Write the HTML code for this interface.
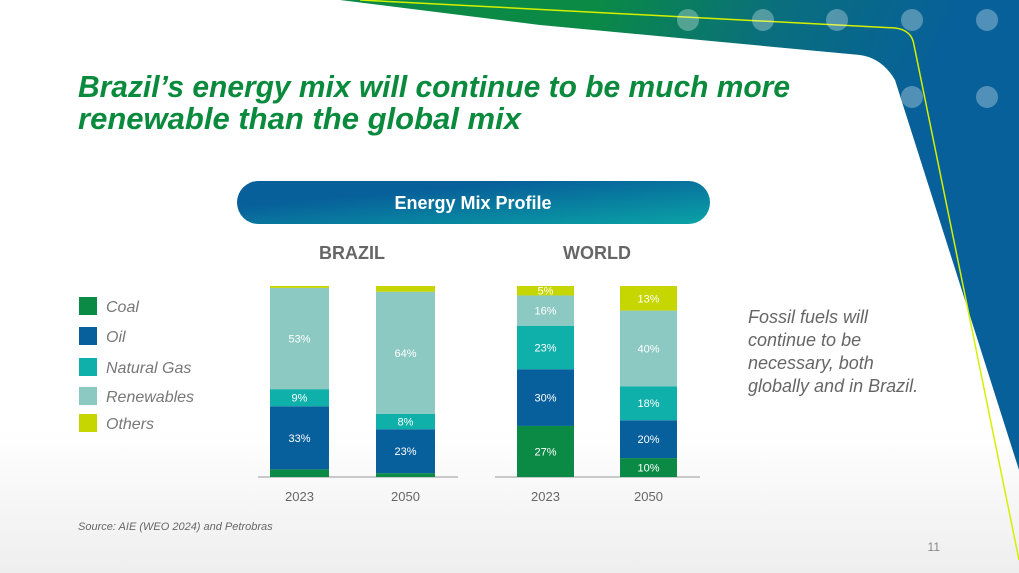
<!DOCTYPE html>
<html><head><meta charset="utf-8"><style>
body{margin:0;width:1019px;height:573px;overflow:hidden;background:#fff;font-family:"Liberation Sans",sans-serif}
svg{display:block}
</style></head><body>
<svg id="s" width="1019" height="573" viewBox="0 0 1019 573">
<defs>
<linearGradient id="bg" x1="0" y1="0" x2="0" y2="1"><stop offset="0.75" stop-color="#fff"/><stop offset="1" stop-color="#eeeeee"/></linearGradient>
<linearGradient id="deco" x1="0" y1="0" x2="1" y2="0.3"><stop offset="0.35" stop-color="#0a8a45"/><stop offset="0.6" stop-color="#0a6e7e"/><stop offset="0.85" stop-color="#07609a"/></linearGradient>
<linearGradient id="ban" x1="0" y1="0" x2="1" y2="1"><stop offset="0.3" stop-color="#07609a"/><stop offset="1" stop-color="#0aa3a6"/></linearGradient>
</defs>
<rect width="1019" height="573" fill="url(#bg)"/>
<path d="M340 0 L1019 0 L1019 470 L895 80 Q882 58 860 55 L540 25 Z" fill="url(#deco)"/>
<path d="M360 0 L895 28 Q912 30 914 45 L1019 560" fill="none" stroke="#d4f000" stroke-width="1.5"/>
<g fill="#ffffff" fill-opacity="0.3">
<circle cx="688" cy="20" r="11"/><circle cx="763" cy="20" r="11"/><circle cx="837" cy="20" r="11"/><circle cx="912" cy="20" r="11"/><circle cx="987" cy="20" r="11"/><circle cx="912" cy="97" r="11"/><circle cx="987" cy="97" r="11"/>
</g>
<g font-style="italic" font-weight="bold" font-size="31" fill="#0a8a3c">
<text x="78" y="97" textLength="712" lengthAdjust="spacingAndGlyphs">Brazil’s energy mix will continue to be much more</text>
<text x="78" y="129" textLength="443" lengthAdjust="spacingAndGlyphs">renewable than the global mix</text>
</g>
<rect x="237" y="181" width="473" height="43" rx="21.5" fill="url(#ban)"/>
<text x="473" y="209" text-anchor="middle" fill="#fff" font-weight="bold" font-size="18">Energy Mix Profile</text>
<text x="352" y="259" text-anchor="middle" fill="#666" font-weight="bold" font-size="18">BRAZIL</text>
<text x="597" y="259" text-anchor="middle" fill="#666" font-weight="bold" font-size="18">WORLD</text>
<line x1="258" y1="477" x2="458" y2="477" stroke="#999"/>
<line x1="495" y1="477" x2="700" y2="477" stroke="#999"/>
<g id="bars"></g>
<g id="legend" font-style="italic" font-size="16" fill="#777"></g>
<g font-style="italic" font-size="18" fill="#666">
<text x="748" y="323">Fossil fuels will</text>
<text x="748" y="346">continue to be</text>
<text x="748" y="369">necessary, both</text>
<text x="748" y="392">globally and in Brazil.</text>
</g>
<text x="78" y="530" font-style="italic" font-size="11" fill="#666">Source: AIE (WEO 2024) and Petrobras</text>
<text x="940" y="551" font-size="12" fill="#888" text-anchor="end">11</text>
</svg>
<script>
const categories = ["Brazil 2023","Brazil 2050","World 2023","World 2050"];
const years = ["2023","2050","2023","2050"];
const seriesNames = ["Coal","Oil","Natural Gas","Renewables","Others"];
const coal = [4, 2, 27, 10];
const oil = [33, 23, 30, 20];
const gas = [9, 8, 23, 18];
const renewables = [53, 64, 16, 40];
const others = [1, 3, 5, 13];
const labelCoal = ["", "", "27%", "10%"];
const labelOil = ["33%", "23%", "30%", "20%"];
const labelGas = ["9%", "8%", "23%", "18%"];
const labelRen = ["53%", "64%", "16%", "40%"];
const labelOth = ["", "", "5%", "13%"];

const colors = ["#0a8a45","#075f9c","#10b0aa","#8cc9c3","#c6d600"];
const series = [coal, oil, gas, renewables, others];
const labels = [labelCoal, labelOil, labelGas, labelRen, labelOth];
const barX = [270, 376, 517, 620], barW = [59, 59, 57, 57];
const y0 = 477, plotH = 191;
const NS = "http://www.w3.org/2000/svg";
const g = document.getElementById("bars");
function yScale(v, total){ return v / total * plotH; }
categories.forEach((c, i) => {
  let total = series.reduce((a, s) => a + s[i], 0);
  let cum = 0;
  series.forEach((s, k) => {
    const h = yScale(s[i], total);
    const y = y0 - yScale(cum, total) - h;
    cum += s[i];
    const r = document.createElementNS(NS, "rect");
    r.setAttribute("x", barX[i]); r.setAttribute("y", y);
    r.setAttribute("width", barW[i]); r.setAttribute("height", h);
    r.setAttribute("fill", colors[k]);
    
    
    g.appendChild(r);
    if (labels[k][i]) {
      const t = document.createElementNS(NS, "text");
      t.setAttribute("x", barX[i] + barW[i] / 2);
      t.setAttribute("y", y + h / 2 + 4);
      t.setAttribute("text-anchor", "middle");
      t.setAttribute("font-size", "11");
      t.setAttribute("fill", "#fff");
      t.textContent = labels[k][i];
      
      
      g.appendChild(t);
    }
  });
  const yl = document.createElementNS(NS, "text");
  yl.setAttribute("x", barX[i] + barW[i] / 2);
  yl.setAttribute("y", 501);
  yl.setAttribute("text-anchor", "middle");
  yl.setAttribute("font-size", "13");
  yl.setAttribute("fill", "#666");
  yl.textContent = years[i];
  
  
  g.appendChild(yl);
});
const lg = document.getElementById("legend");
const legY = [306, 336, 367, 396, 423];
seriesNames.forEach((n, k) => {
  const r = document.createElementNS(NS, "rect");
  r.setAttribute("x", 79); r.setAttribute("y", legY[k] - 9);
  r.setAttribute("width", 18); r.setAttribute("height", 18);
  r.setAttribute("fill", colors[k]);
  
  
  lg.appendChild(r);
  const t = document.createElementNS(NS, "text");
  t.setAttribute("x", 106); t.setAttribute("y", legY[k] + 6);
  t.textContent = n;
  
  
  lg.appendChild(t);
});
</script>
</body></html>
